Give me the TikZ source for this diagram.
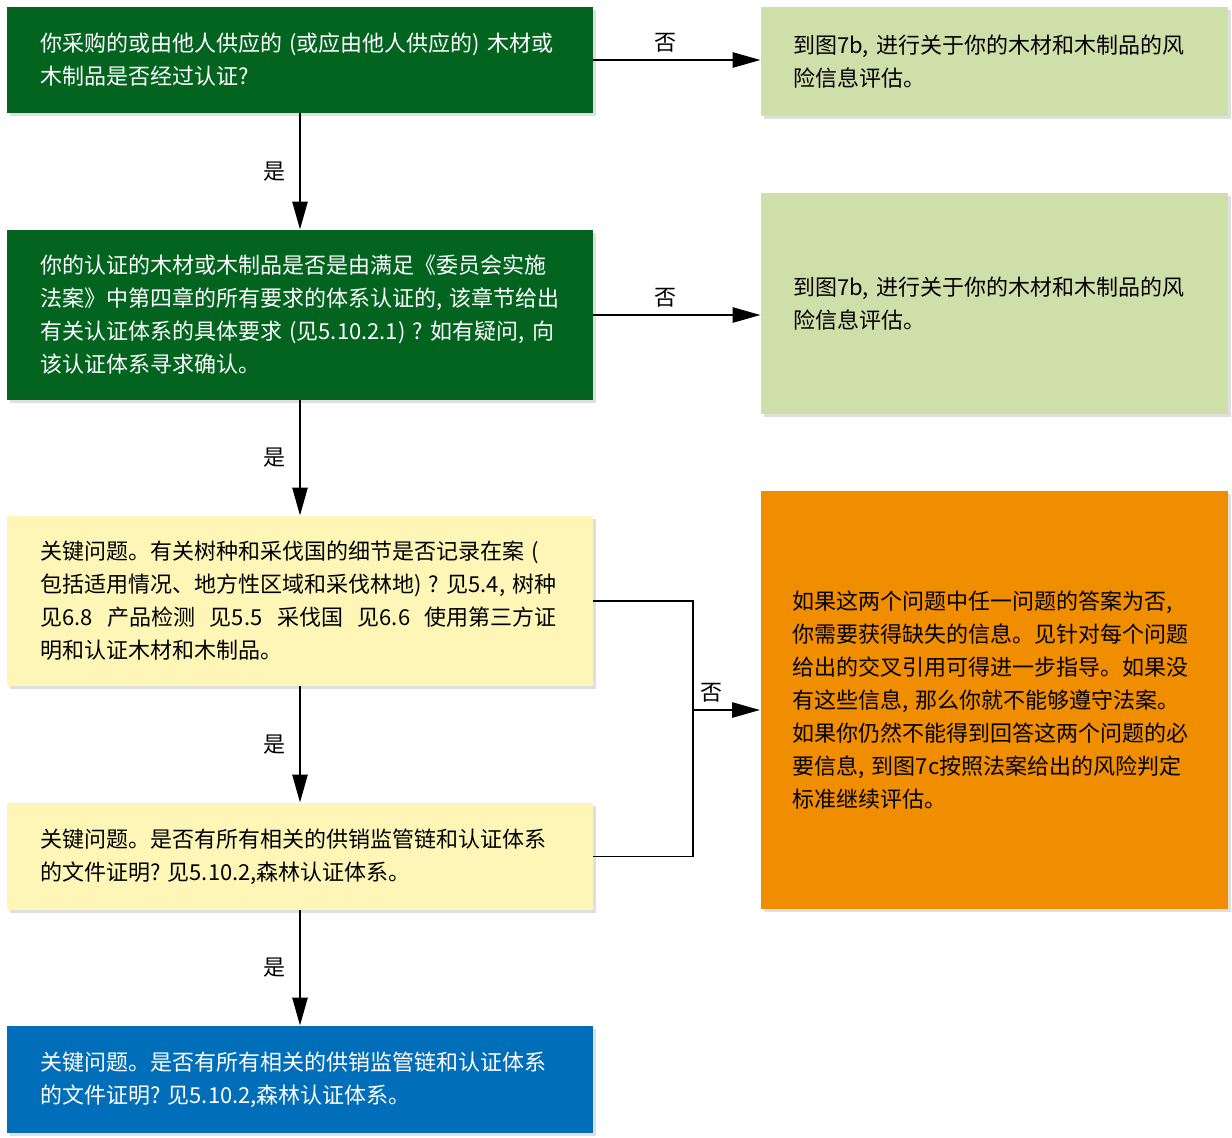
\documentclass[tikz,border=0pt]{standalone}
\usepackage{xcolor}
\usepackage{fontspec}
\newfontfamily\cjk{Noto Sans CJK SC}
\usepackage{tikz}
\usetikzlibrary{calc}
\usetikzlibrary{arrows.meta}
\usetikzlibrary{shadows}

\definecolor{darkgreen}{HTML}{03641F}
\definecolor{lightgreen}{HTML}{CFDFA9}
\definecolor{paleyellow}{HTML}{FDF6B7}
\definecolor{qblue}{HTML}{006EB8}
\definecolor{warnorange}{HTML}{F08E00}

\begin{document}
\begin{tikzpicture}[x=0.5pt,y=-0.5pt,
		box/.style={rectangle, inner ysep=0pt, align=left,
			font=\cjk\fontsize{11pt}{16.5pt}\selectfont,
			drop shadow={shadow xshift=1.5pt,shadow yshift=-1.5pt,opacity=0.25}},
		leftbox/.style={box, inner xsep=16.5pt, text width=260pt},
		rightbox/.style={box, inner xsep=16pt, text width=201.5pt},
		arr/.style={line width=1.3pt, -{Triangle[length=14pt,width=7.5pt]}},
		link/.style={line width=0.7pt},
		lab/.style={font=\cjk\fontsize{11pt}{13pt}\selectfont}]
		\useasboundingbox (0,0) rectangle (1232,1137);
		
		\coordinate (A) at (300,60);
		\coordinate (B) at (300,315);
		\coordinate (C) at (300,601);
		\coordinate (D) at (300,856.5);
		\coordinate (E) at (300,1079.5);
		
		\coordinate (F) at (994.5,61.5);
		\coordinate (G) at (994.5,303.5);
		\coordinate (H) at (994,700);
		
		\coordinate (J) at (693,710);
		
		\node[leftbox, fill=darkgreen, text=white, minimum height=53pt] (Q1) at (A)
			{你采购的或由他人供应的~(或应由他人供应的)~木材或\\木制品是否经过认证?};
		\node[leftbox, fill=darkgreen, text=white, minimum height=85pt] (Q2) at (B)
			{你的认证的木材或木制品是否是由满足《委员会实施\\法案》中第四章的所有要求的体系认证的,~该章节给出\\有关认证体系的具体要求~(见5.10.2.1)~?~如有疑问,~向\\该认证体系寻求确认。};
		\node[leftbox, fill=paleyellow, text=black, minimum height=85pt] (Q3) at (C)
			{关键问题。有关树种和采伐国的细节是否记录在案~(\\包括适用情况、地方性区域和采伐林地)~?~见5.4,~树种\\见6.8~~产品检测~~见5.5~~采伐国~~见6.6~~使用第三方证\\明和认证木材和木制品。};
		\node[leftbox, fill=paleyellow, text=black, minimum height=53.5pt] (Q4) at (D)
			{关键问题。是否有所有相关的供销监管链和认证体系\\的文件证明?~见5.10.2,森林认证体系。};
		\node[leftbox, fill=qblue, text=white, minimum height=53.5pt] (Q5) at (E)
			{关键问题。是否有所有相关的供销监管链和认证体系\\的文件证明?~见5.10.2,森林认证体系。};
		
		\node[rightbox, fill=lightgreen, text=black, minimum height=54.5pt] (R1) at (F)
			{到图7b,~进行关于你的木材和木制品的风\\险信息评估。};
		\node[rightbox, fill=lightgreen, text=black, minimum height=110.5pt] (R2) at (G)
			{到图7b,~进行关于你的木材和木制品的风\\险信息评估。};
		\node[rightbox, fill=warnorange, text=black, minimum height=209pt] (R3) at (H)
			{如果这两个问题中任一问题的答案为否,\\你需要获得缺失的信息。见针对每个问题\\给出的交叉引用可得进一步指导。如果没\\有这些信息,~那么你就不能够遵守法案。\\如果你仍然不能得到回答这两个问题的必\\要信息,~到图7c按照法案给出的风险判定\\标准继续评估。};
		
		\draw[arr] (Q1) -- (Q2) node[midway, left=3.3pt, lab] {是};
		\draw[arr] (Q2) -- (Q3) node[midway, left=3.3pt, lab] {是};
		\draw[arr] (Q3) -- (Q4) node[midway, left=3.3pt, lab] {是};
		\draw[arr] (Q4) -- (Q5) node[midway, left=3.3pt, lab] {是};
		
		\draw[arr] (Q1.east) -- (Q1.east -| R1.west) node[pos=0.43, above, lab] {否};
		\draw[arr] (Q2.east) -- (Q2.east -| R2.west) node[pos=0.43, above, lab] {否};
		
		\draw[link] (Q3.east) -| (J);
		\draw[link] (Q4.east) -| (J);
		\draw[arr] (J) -- (J -| R3.west) node[pos=0.28, above, lab] {否};
	\end{tikzpicture}
\end{document}
